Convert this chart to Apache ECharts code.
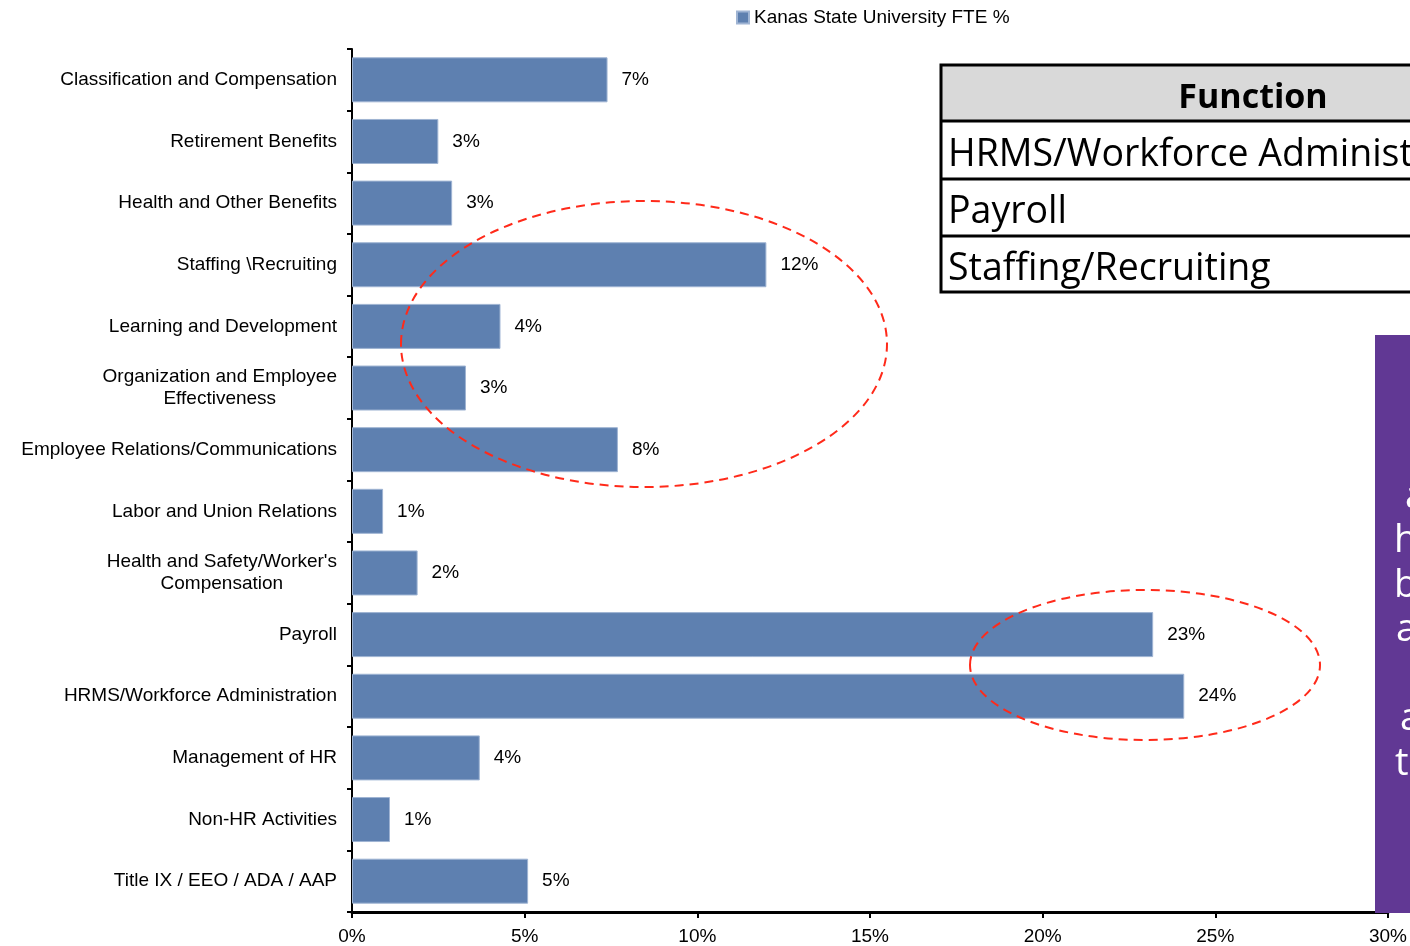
<!DOCTYPE html>
<html><head><meta charset="utf-8">
<script src="https://cdn.jsdelivr.net/npm/echarts@6/dist/echarts.min.js"></script>
<style>html,body{margin:0;padding:0;background:#fff}#c{width:1410px;height:946px}</style>
</head><body><div id="c"></div>
<script>
const categories = [
  "Classification and Compensation",
  "Retirement Benefits",
  "Health and Other Benefits",
  "Staffing \\Recruiting",
  "Learning and Development",
  "Organization and Employee\nEffectiveness",
  "Employee Relations/Communications",
  "Labor and Union Relations",
  "Health and Safety/Worker's\nCompensation",
  "Payroll",
  "HRMS/Workforce Administration",
  "Management of HR",
  "Non-HR Activities",
  "Title IX / EEO / ADA / AAP"
];
const fteValues = [7.4, 2.5, 2.9, 12.0, 4.3, 3.3, 7.7, 0.9, 1.9, 23.2, 24.1, 3.7, 1.1, 5.1];
const seriesName = "Kanas State University FTE %";
const xTicks = [0, 5, 10, 15, 20, 25, 30];
const tableHeader = "Function";
const tableRows = ["HRMS/Workforce Administration", "Payroll", "Staffing/Recruiting"];
const sideFragments = ["a", "h", "b", "a", "", "a", "ti"];

const FONT = "Liberation Sans";
const FS = 19;
const chart = echarts.init(document.getElementById('c'));

function labelFmt(v) {
  const parts = v.split("\n");
  if (parts.length === 1) return v;
  return parts.map(p => "{c|" + p + "}").join("\n");
}

const graphics = [];
// table
const tx = 941, tw = 480;
const rowY = [65, 121, 179, 236, 292];
graphics.push({type:'rect', shape:{x:tx, y:rowY[0], width:tw, height:rowY[1]-rowY[0]}, style:{fill:'#d9d9d9'}, z:10});
graphics.push({type:'rect', shape:{x:tx, y:rowY[0], width:tw, height:rowY[4]-rowY[0]}, style:{fill:'none', stroke:'#000', lineWidth:3}, z:12});
for (let i = 1; i < 4; i++) {
  graphics.push({type:'line', shape:{x1:tx, y1:rowY[i], x2:tx+tw, y2:rowY[i]}, style:{stroke:'#000', lineWidth:3}, z:12});
}
graphics.push({type:'text', x:1253, y:98, style:{text:tableHeader, font:'bold 34px "Open Sans"', fill:'#000', textAlign:'center', textVerticalAlign:'middle'}, z:13});
tableRows.forEach((t, i) => {
  graphics.push({type:'text', x:948, y:(rowY[i+1]+rowY[i+2])/2 + 5, style:{text:t, font:'37.5px "Open Sans"', fill:'#000', textAlign:'left', textVerticalAlign:'middle'}, z:13});
});
// purple panel
graphics.push({type:'rect', shape:{x:1375, y:335, width:40, height:578}, style:{fill:'#613894'}, z:10});
const fragX = [1405, 1394, 1394, 1396, 1396, 1400, 1395];
sideFragments.forEach((t, i) => {
  if (!t) return;
  graphics.push({type:'text', x:fragX[i], y:497 + i*44.5, style:{text:t, font:'38px "Open Sans"', fill:'#fff', textAlign:'left', textVerticalAlign:'middle'}, z:13});
});
// dashed ellipses
graphics.push({type:'ellipse', shape:{cx:644, cy:344, rx:243, ry:143}, style:{fill:'none', stroke:'#ff2a1a', lineWidth:2, lineDash:[9,6]}, z:20});
graphics.push({type:'ellipse', shape:{cx:1145, cy:665, rx:175, ry:75}, style:{fill:'none', stroke:'#ff2a1a', lineWidth:2, lineDash:[9,6]}, z:20});

chart.setOption({
  animation: false,
  textStyle: {fontFamily: FONT},
  legend: {
    data: [seriesName], left: 736, top: 8, itemWidth: 12, itemHeight: 12, itemGap: 3,
    icon: 'rect', padding: 0,
    textStyle: {fontSize: FS, color: '#000', fontFamily: FONT}
  },
  grid: {left: 352, right: 20, top: 49, bottom: 34, containLabel: false},
  xAxis: {
    type: 'value', min: 0, max: 30, interval: 5,
    axisLine: {show: true, lineStyle: {color: '#000', width: 3}},
    axisTick: {show: true, length: 6, lineStyle: {color: '#000', width: 2}},
    splitLine: {show: false},
    axisLabel: {formatter: v => xTicks.includes(v) ? v + '%' : '', fontSize: FS, color: '#000', margin: 15, fontFamily: FONT}
  },
  yAxis: {
    type: 'category', inverse: true, data: categories,
    axisLine: {show: true, lineStyle: {color: '#000', width: 2}},
    axisTick: {show: true, length: 5, inside: false, lineStyle: {color: '#000', width: 2}},
    axisLabel: {
      fontSize: FS, color: '#000', margin: 15, fontFamily: FONT, lineHeight: 22,
      formatter: labelFmt,
      rich: {c: {align: 'center', fontSize: FS, fontFamily: FONT, color: '#000', lineHeight: 22}}
    }
  },
  series: [{
    name: seriesName, type: 'bar', data: fteValues,
    barCategoryGap: '27%',
    itemStyle: {color: '#5e80b0', borderColor: '#9fb4d3', borderWidth: 1},
    label: {show: true, position: 'right', distance: 14, fontSize: FS, color: '#000', fontFamily: FONT,
      formatter: p => Math.round(p.value) + '%'}
  }],
  graphic: graphics
});
</script></body></html>
